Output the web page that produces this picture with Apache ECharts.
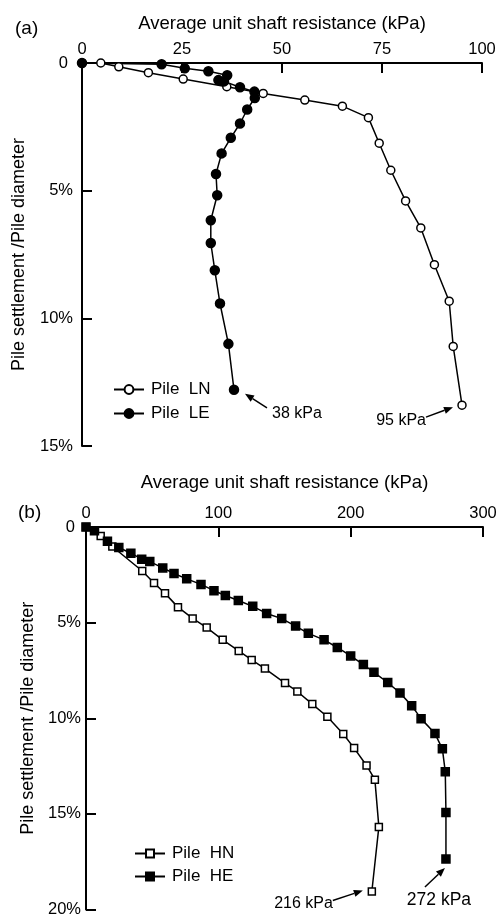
<!DOCTYPE html>
<html>
<head>
<meta charset="utf-8">
<script src="https://cdn.jsdelivr.net/npm/echarts@6/dist/echarts.min.js"></script>
<style>
  html, body { margin: 0; padding: 0; background: #fff; }
  #chart { width: 504px; height: 918px; }
</style>
</head>
<body>
<div id="chart"></div>
<script>
// Panel (a): average unit shaft resistance (kPa) vs settlement ratio (%)
const lnResistance = [0, 4.7, 9.2, 16.6, 25.3, 36.2, 45.3, 55.7, 65.1, 71.6, 74.3, 77.2, 80.9, 84.7, 88.1, 91.8, 92.8, 95];
const lnSettlement = [0, 0, 0.15, 0.38, 0.63, 0.93, 1.19, 1.45, 1.69, 2.14, 3.14, 4.2, 5.4, 6.46, 7.9, 9.33, 11.1, 13.4];
const leResistance = [0, 19.9, 25.7, 31.6, 36.3, 34.1, 35.5, 39.5, 43.1, 43.2, 41.3, 39.5, 37.2, 34.9, 33.5, 33.8, 32.2, 32.2, 33.2, 34.5, 36.6, 38];
const leSettlement = [0, 0.05, 0.21, 0.32, 0.48, 0.67, 0.72, 0.95, 1.12, 1.37, 1.82, 2.37, 2.93, 3.54, 4.35, 5.18, 6.16, 7.05, 8.12, 9.42, 11.0, 12.8];

// Panel (b)
const hnResistance = [0, 11.1, 19.9, 42.5, 51.4, 59.7, 69.5, 80.6, 91.2, 103.3, 115.4, 125.2, 135.2, 150.4, 159.7, 171, 182.4, 194.4, 202.6, 212, 218.3, 221.3, 216];
const hnSettlement = [0, 0.47, 1.02, 2.3, 2.93, 3.47, 4.19, 4.78, 5.26, 5.9, 6.48, 6.95, 7.4, 8.16, 8.6, 9.26, 9.92, 10.82, 11.56, 12.47, 13.21, 15.68, 19.06];
const heResistance = [0, 6.4, 16.2, 24.8, 33.9, 42.1, 48.2, 58, 66.5, 76.1, 86.9, 96.7, 105.3, 115.1, 126, 136.5, 147.9, 158.4, 168, 179.9, 189.9, 200, 209.6, 217.6, 228, 237.3, 246.1, 253.2, 263.7, 269.3, 271.5, 272, 272];
const heSettlement = [0, 0.2, 0.75, 1.07, 1.37, 1.68, 1.81, 2.14, 2.43, 2.71, 3.0, 3.33, 3.58, 3.84, 4.15, 4.52, 4.79, 5.18, 5.56, 5.9, 6.3, 6.74, 7.19, 7.6, 8.13, 8.68, 9.34, 10.02, 10.8, 11.6, 12.8, 14.93, 17.36];

// Axis ranges and tick spacing
const xTicksA = { min: 0, max: 100, interval: 25 };
const yTicksA = { min: 0, max: 15, interval: 5 };
const xTicksB = { min: 0, max: 300, interval: 100 };
const yTicksB = { min: 0, max: 20, interval: 5 };

const seriesNames = ['Pile  LN', 'Pile  LE', 'Pile  HN', 'Pile  HE'];
const xTitle = 'Average unit shaft resistance (kPa)';
const yTitle = 'Pile settlement /Pile diameter';

const FONT = '"Liberation Sans", Arial, sans-serif';
const INK = '#000';

function pairs(xs, ys) { return xs.map((x, i) => [x, ys[i]]); }

function xAxisFor(gridIndex, ticks, nameGap) {
  return {
    gridIndex, type: 'value', position: 'top',
    min: ticks.min, max: ticks.max, interval: ticks.interval,
    name: xTitle, nameLocation: 'middle', nameGap,
    nameTextStyle: { fontFamily: FONT, fontSize: 18.5, color: INK },
    axisLine: { show: true, onZero: false, lineStyle: { color: INK, width: 2 } },
    axisTick: { show: true, inside: true, length: 10, lineStyle: { color: INK, width: 2 } },
    axisLabel: { fontFamily: FONT, fontSize: 16.5, color: INK, margin: 5 },
    splitLine: { show: false }
  };
}

function yAxisFor(gridIndex, ticks, nameGap, margin, zeroPad) {
  return {
    gridIndex, type: 'value', inverse: true,
    min: ticks.min, max: ticks.max, interval: ticks.interval,
    name: yTitle, nameLocation: 'middle', nameRotate: 90, nameGap,
    nameTextStyle: { fontFamily: FONT, fontSize: 18, color: INK },
    axisLine: { show: true, onZero: false, lineStyle: { color: INK, width: 2 } },
    axisTick: { show: true, inside: true, length: 10, lineStyle: { color: INK, width: 2 } },
    axisLabel: {
      fontFamily: FONT, fontSize: 16.5, color: INK, margin,
      formatter: v => (v === 0 ? '{z|0}' : v + '%'),
      rich: { z: { fontFamily: FONT, fontSize: 16.5, color: INK, padding: [0, zeroPad, 0, 0] } }
    },
    splitLine: { show: false }
  };
}

function lineSeries(name, data, idx, symbol, filled, size) {
  return {
    name, type: 'line', data,
    xAxisIndex: idx, yAxisIndex: idx,
    symbol, symbolSize: size,
    showAllSymbol: true,
    lineStyle: { color: INK, width: 1.5 },
    itemStyle: { color: filled ? INK : '#fff', borderColor: INK, borderWidth: 1.5 },
    emphasis: { disabled: true },
    animation: false
  };
}

const chart = echarts.init(document.getElementById('chart'), null, { renderer: 'canvas' });

const legendText = { fontFamily: FONT, fontSize: 17, color: INK, padding: [0, 0, 0, 2] };

chart.setOption({
  backgroundColor: '#fff',
  animation: false,
  title: [
    { text: '(a)', left: 10, top: 14, textStyle: { fontFamily: FONT, fontSize: 19, fontWeight: 'normal', color: INK } },
    { text: '(b)', left: 13, top: 498, textStyle: { fontFamily: FONT, fontSize: 19, fontWeight: 'normal', color: INK } }
  ],
  grid: [
    { left: 82, top: 63, width: 400, height: 383 },
    { left: 86, top: 527, width: 397, height: 384 }
  ],
  xAxis: [xAxisFor(0, xTicksA, 30), xAxisFor(1, xTicksB, 35)],
  yAxis: [yAxisFor(0, yTicksA, 54, 9, 5), yAxisFor(1, yTicksB, 49, 5, 6)],
  legend: [
    {
      data: [seriesNames[0], seriesNames[1]], orient: 'vertical',
      left: 108, top: 376, itemWidth: 30, itemHeight: 11, itemGap: 7,
      textStyle: legendText, selectedMode: false
    },
    {
      data: [seriesNames[2], seriesNames[3]], orient: 'vertical',
      left: 129, top: 840, itemWidth: 30, itemHeight: 10, itemGap: 6,
      textStyle: legendText, selectedMode: false
    }
  ],
  series: [
    lineSeries(seriesNames[0], pairs(lnResistance, lnSettlement), 0, 'circle', false, 8),
    lineSeries(seriesNames[1], pairs(leResistance, leSettlement), 0, 'circle', true, 9),
    lineSeries(seriesNames[2], pairs(hnResistance, hnSettlement), 1, 'rect', false, 7),
    lineSeries(seriesNames[3], pairs(heResistance, heSettlement), 1, 'rect', true, 8)
  ]
});

// Callouts pointing at the final reading of each pile, placed relative to that point
function lastPoint(xs, ys) { return [xs[xs.length - 1], ys[ys.length - 1]]; }

function arrow(p, tail, tip) {
  const x1 = p[0] + tail[0], y1 = p[1] + tail[1];
  const x2 = p[0] + tip[0], y2 = p[1] + tip[1];
  const ang = Math.atan2(y2 - y1, x2 - x1);
  const len = 9, half = 3.6;
  const bx = x2 - len * Math.cos(ang), by = y2 - len * Math.sin(ang);
  const nx = -Math.sin(ang), ny = Math.cos(ang);
  return [
    { type: 'line', shape: { x1, y1, x2: bx, y2: by }, style: { stroke: INK, lineWidth: 1.5 }, silent: true },
    {
      type: 'polygon', silent: true,
      shape: { points: [[x2, y2], [bx + nx * half, by + ny * half], [bx - nx * half, by - ny * half]] },
      style: { fill: INK }
    }
  ];
}

function callout(seriesIndex, xs, ys, text, size, textPos, align, tail, tip) {
  const p = chart.convertToPixel({ seriesIndex }, lastPoint(xs, ys));
  return [
    {
      type: 'text', silent: true,
      x: p[0] + textPos[0], y: p[1] + textPos[1],
      style: { text, font: size + 'px ' + FONT, fill: INK, align, verticalAlign: 'middle' }
    },
    ...arrow(p, tail, tip)
  ];
}

const graphics = [
  ...callout(1, leResistance, leSettlement, leResistance[leResistance.length - 1] + ' kPa', 16, [38, 24], 'left', [33, 18], [11, 4]),
  ...callout(0, lnResistance, lnSettlement, lnResistance[lnResistance.length - 1] + ' kPa', 16, [-36, 15], 'right', [-36, 12], [-9, 2]),
  ...callout(2, hnResistance, hnSettlement, hnResistance[hnResistance.length - 1] + ' kPa', 16, [-39, 12], 'right', [-39, 9], [-9, -1]),
  ...callout(3, heResistance, heSettlement, heResistance[heResistance.length - 1] + ' kPa', 17.5, [-7, 41], 'center', [-21, 28], [-1, 9])
];

chart.setOption({ graphic: graphics });
</script>
</body>
</html>
